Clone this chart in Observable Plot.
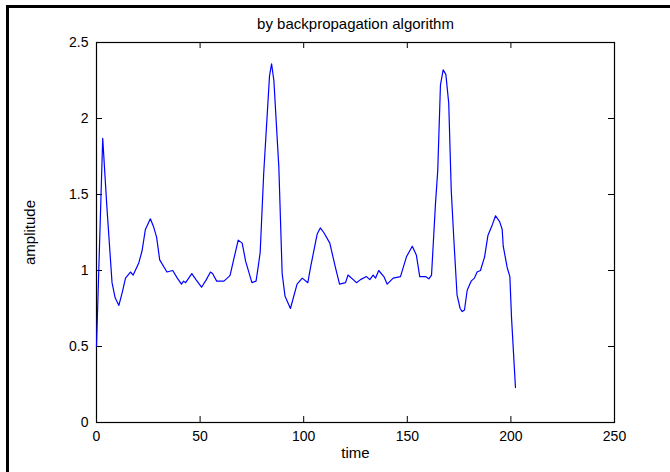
<!DOCTYPE html>
<html>
<head>
<meta charset="utf-8">
<script src="https://cdn.jsdelivr.net/npm/d3@7"></script>
<script src="https://cdn.jsdelivr.net/npm/@observablehq/plot@0.6"></script>
<style>
  html, body { margin: 0; padding: 0; background: #fff; }
  #wrap { position: relative; width: 670px; height: 472px; overflow: hidden; background: #fff; }
  #bl { position: absolute; left: 6px; top: 5px; width: 2.5px; height: 480px; background: #000; }
  #bt { position: absolute; left: 6px; top: 5px; width: 700px; height: 2.5px; background: #000; }
  #chart { position: absolute; left: 0; top: 0; }
</style>
</head>
<body>
<div id="wrap"><div id="chart"></div><div id="bl"></div><div id="bt"></div></div>
<script>
const title = "by backpropagation algorithm";
const xLabel = "time";
const yLabel = "amplitude";
const xTicks = [0, 50, 100, 150, 200, 250];
const yTicks = [0, 0.5, 1, 1.5, 2, 2.5];

const time = [0, 3, 5, 7.5, 9, 10.8, 12.5, 14, 16.4, 17.7, 20.4, 22, 23.6, 26, 27.5, 29, 30.5, 34, 36.8, 39, 41, 42, 43, 46, 48, 50.7, 53, 55, 56, 58, 61.5, 63.9, 64.5, 66, 68.4, 70.3, 72, 75, 77, 78, 79, 80.7, 83.5, 84.5, 85.6, 88, 89.6, 91, 93.6, 96.8, 99.3, 102, 103.3, 106.5, 108, 109.7, 112.6, 115.3, 117.3, 120.2, 121.4, 125.5, 127.4, 130.3, 131.9, 133.5, 134.7, 136.2, 138.7, 140.3, 143.2, 146.7, 149.6, 152.4, 154.4, 156, 158.8, 160.4, 161.7, 163.6, 164.7, 166, 167.3, 168.6, 170, 171.2, 172.4, 174, 175.5, 176.5, 177.6, 178.9, 180.8, 182.4, 183.7, 185.3, 187.3, 188.9, 191, 192.6, 194.6, 195.8, 196.3, 198.2, 199.5, 200.3, 202.2];
const amplitude = [0.50, 1.87, 1.42, 0.92, 0.82, 0.77, 0.86, 0.95, 0.99, 0.97, 1.05, 1.13, 1.27, 1.34, 1.29, 1.22, 1.07, 0.99, 1.00, 0.95, 0.91, 0.93, 0.92, 0.98, 0.94, 0.89, 0.94, 0.99, 0.98, 0.93, 0.93, 0.96, 0.97, 1.06, 1.20, 1.18, 1.06, 0.92, 0.93, 1.02, 1.12, 1.64, 2.28, 2.36, 2.25, 1.68, 0.98, 0.83, 0.75, 0.91, 0.95, 0.92, 1.02, 1.24, 1.28, 1.25, 1.18, 1.02, 0.91, 0.92, 0.97, 0.92, 0.94, 0.96, 0.94, 0.97, 0.95, 1.00, 0.96, 0.91, 0.95, 0.96, 1.09, 1.16, 1.10, 0.96, 0.96, 0.945, 0.97, 1.44, 1.66, 2.22, 2.32, 2.29, 2.10, 1.53, 1.22, 0.84, 0.75, 0.73, 0.74, 0.87, 0.93, 0.95, 0.99, 1.00, 1.09, 1.23, 1.30, 1.36, 1.32, 1.27, 1.16, 1.02, 0.96, 0.69, 0.23];

const data = time.map((t, i) => ({t, v: amplitude[i]}));

const W = 670, H = 472, ML = 96, MR = 56, MT = 42, MB = 50;
const tickPx = 6;
const xPerPx = (xTicks[xTicks.length - 1] - xTicks[0]) / (W - ML - MR);
const yPerPx = (yTicks[yTicks.length - 1] - yTicks[0]) / (H - MT - MB);
const xMax = xTicks[xTicks.length - 1], yMax = yTicks[yTicks.length - 1];

const chart = Plot.plot({
  width: W, height: H,
  marginLeft: ML, marginRight: MR, marginTop: MT, marginBottom: MB,
  style: {fontFamily: "'Liberation Sans', Arial, sans-serif", fontSize: "14px", color: "#000", background: "transparent"},
  x: {domain: [0, xMax]},
  y: {domain: [0, yMax]},
  marks: [
    Plot.axisX({ticks: xTicks, tickSize: 0, tickPadding: 9, tickFormat: d => String(d), label: null, fontSize: 14}),
    Plot.axisY({ticks: yTicks, tickSize: 0, tickPadding: 8, tickFormat: d => String(d), label: null, fontSize: 14}),
    Plot.ruleX(xTicks, {x: d => d, y1: 0, y2: tickPx * yPerPx, stroke: "#000"}),
    Plot.ruleX(xTicks, {x: d => d, y1: yMax, y2: yMax - tickPx * yPerPx, stroke: "#000"}),
    Plot.ruleY(yTicks, {y: d => d, x1: 0, x2: tickPx * xPerPx, stroke: "#000"}),
    Plot.ruleY(yTicks, {y: d => d, x1: xMax, x2: xMax - tickPx * xPerPx, stroke: "#000"}),
    Plot.frame({stroke: "#000", strokeWidth: 1.2}),
    Plot.line(data, {x: "t", y: "v", stroke: "#0000ff", strokeWidth: 1.2}),
    Plot.text([title], {frameAnchor: "top", dy: -18, lineAnchor: "middle", fontSize: 15, fill: "#000"}),
    Plot.text([xLabel], {frameAnchor: "bottom", dy: 31, lineAnchor: "middle", fontSize: 15, fill: "#000"}),
    Plot.text([yLabel], {frameAnchor: "left", dx: -66, rotate: -90, textAnchor: "middle", lineAnchor: "middle", fontSize: 15, fill: "#000"})
  ]
});
document.getElementById("chart").appendChild(chart);
</script>
</body>
</html>
